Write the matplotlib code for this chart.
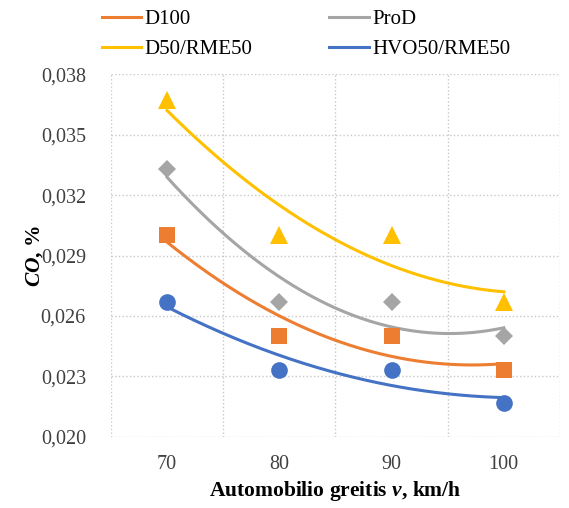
import numpy as np
import matplotlib
matplotlib.use("Agg")
import matplotlib.pyplot as plt
from matplotlib.ticker import FuncFormatter

plt.rcParams['font.family'] = ['Liberation Serif', 'DejaVu Serif']
plt.rcParams['mathtext.fontset'] = 'custom'
plt.rcParams['mathtext.it'] = 'Liberation Serif:italic:bold'
plt.rcParams['mathtext.rm'] = 'Liberation Serif:bold'

# speed, km/h
speed = [70, 80, 90, 100]

# CO, %
co_d100 = [0.0300, 0.0250, 0.0250, 0.0233]
co_prod = [0.0333, 0.0267, 0.0267, 0.0250]
co_d50 = [0.0367, 0.0300, 0.0300, 0.0267]
co_hvo50 = [0.0267, 0.0233, 0.0233, 0.0217]

series_names = ["D100", "ProD", "D50/RME50", "HVO50/RME50"]
y_ticks = [0.020, 0.023, 0.026, 0.029, 0.032, 0.035, 0.038]

series = [
    (co_d100, "#ED7D31", "s", 12),
    (co_prod, "#A5A5A5", "D", 9),
    (co_d50, "#FFC000", "^", 13),
    (co_hvo50, "#4472C4", "o", 12),
]

fig = plt.figure(figsize=(5.69, 5.08), dpi=100)
ax = fig.add_axes([0.195, 0.140, 0.789, 0.714])

xs = np.linspace(70, 100, 200)
handles = []
for (vals, col, mk, ms), name in zip(series, series_names):
    # Excel-style 2nd order polynomial trendline
    coef = np.polyfit(speed, vals, 2)
    h, = ax.plot(xs, np.polyval(coef, xs), color=col, lw=2.2, label=name, zorder=3)
    handles.append(h)
    ax.plot(speed, vals, linestyle="none", marker=mk, markersize=ms,
            color=col, markeredgewidth=0, zorder=4)

ax.set_xlim(65, 105)
ax.set_ylim(0.020, 0.038)
ax.set_xticks(speed)
ax.set_xticks([65, 75, 85, 95, 105], minor=True)
ax.set_yticks(y_ticks)
ax.yaxis.set_major_formatter(FuncFormatter(lambda v, p: f"{v:.3f}".replace(".", ",")))
ax.tick_params(axis="both", which="both", length=0, labelsize=14.5, colors="#404040")
ax.tick_params(axis="x", pad=13)
ax.tick_params(axis="y", pad=18)
ax.grid(True, axis="y", which="major", color="#C8C8C8", linestyle=":", lw=1.0)
ax.grid(True, axis="x", which="minor", color="#C8C8C8", linestyle=":", lw=1.0)
ax.grid(False, axis="x", which="major")
for s in ax.spines.values():
    s.set_visible(False)

ax.set_xlabel(r"Automobilio greitis $v$, km/h", fontsize=15.5,
              fontweight="bold", labelpad=4)
ax.set_ylabel(r"$CO$, %", fontsize=15.5, fontweight="bold", labelpad=-3)

# excel fills the legend row by row
order = [0, 2, 1, 3]
fig.legend(handles=[handles[i] for i in order], loc="upper left",
           bbox_to_anchor=(0.146, 1.018), ncol=2,
           frameon=False, fontsize=15, handlelength=1.9, handletextpad=0.15,
           columnspacing=3.7, labelspacing=0.5)

fig.savefig("out.png", dpi=100)
